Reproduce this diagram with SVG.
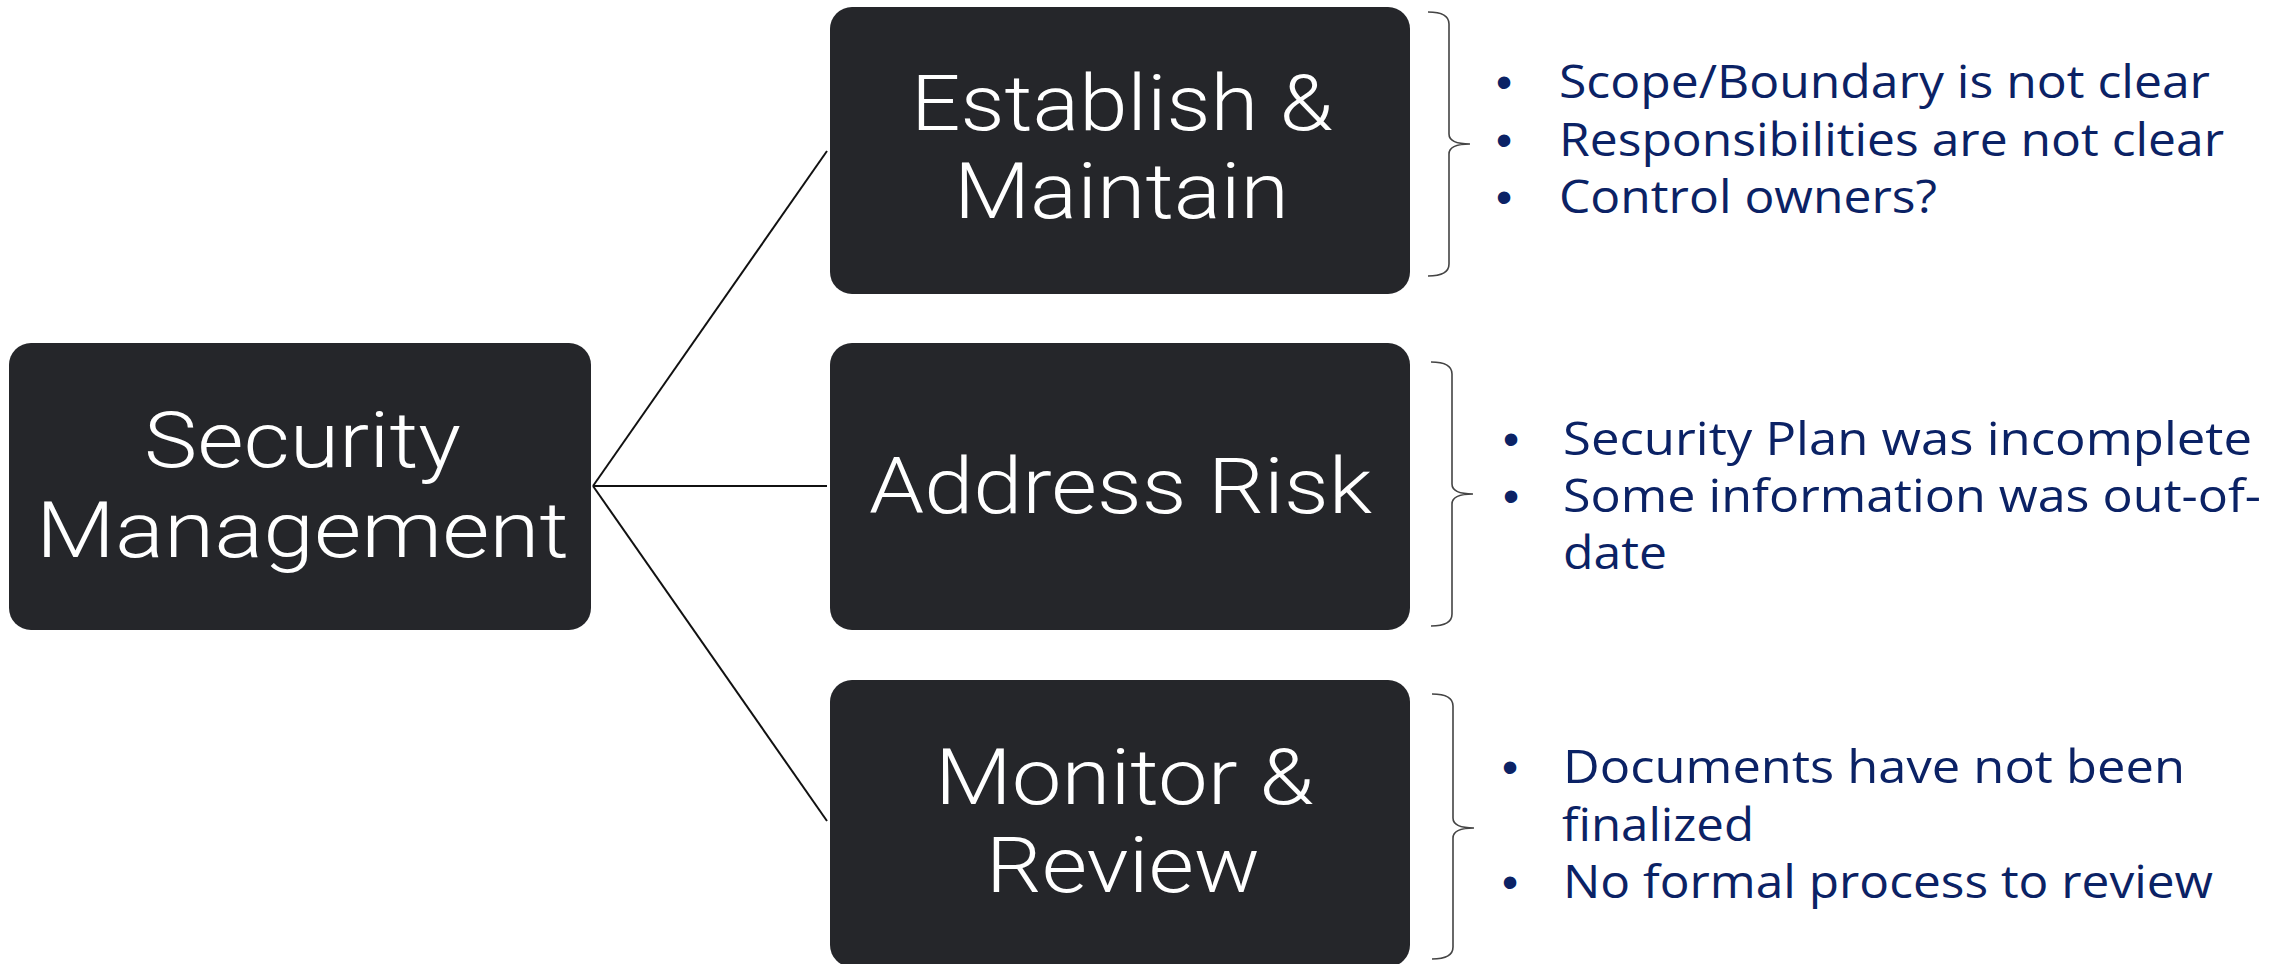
<svg xmlns="http://www.w3.org/2000/svg" width="2282" height="964" viewBox="0 0 2282 964">
<style>
.box{fill:#25262a}
.bt{fill:#ffffff;font-family:"Roboto","Lato","Inter",sans-serif;font-weight:300;font-size:78px}
.nt{fill:#0b2265;font-family:"Open Sans","Liberation Sans",sans-serif;font-size:46px}
.bu{fill:#0b2265;font-family:"Liberation Sans",sans-serif;font-size:46px;text-anchor:middle}
.ln{stroke:#111;stroke-width:2;fill:none}
.br{stroke:#444;stroke-width:1.6;fill:none}
</style>
<rect width="2282" height="964" fill="#ffffff"/>
<g id="connectors">
<line class="ln" x1="593" y1="486" x2="827" y2="151"/>
<line class="ln" x1="593" y1="486" x2="827" y2="486"/>
<line class="ln" x1="593" y1="486" x2="827" y2="821"/>
</g>
<g id="node-security-management">
<rect class="box" x="9" y="343" width="582" height="287" rx="22"/>
<text class="bt" x="144" y="467" textLength="317" lengthAdjust="spacingAndGlyphs">Security</text>
<text class="bt" x="36" y="557" textLength="533" lengthAdjust="spacingAndGlyphs">Management</text>
</g>
<g id="node-establish">
<rect class="box" x="830" y="7" width="580" height="287" rx="22"/>
<text class="bt" x="911" y="130" textLength="422" lengthAdjust="spacingAndGlyphs">Establish &amp;</text>
<text class="bt" x="954" y="218" textLength="335" lengthAdjust="spacingAndGlyphs">Maintain</text>
</g>
<g id="node-address-risk">
<rect class="box" x="830" y="343" width="580" height="287" rx="22"/>
<text class="bt" x="869" y="513" textLength="503" lengthAdjust="spacingAndGlyphs">Address Risk</text>
</g>
<g id="node-monitor">
<rect class="box" x="830" y="680" width="580" height="287" rx="22"/>
<text class="bt" x="935" y="804" textLength="379" lengthAdjust="spacingAndGlyphs">Monitor &amp;</text>
<text class="bt" x="986" y="892" textLength="274" lengthAdjust="spacingAndGlyphs">Review</text>
</g>
<g id="notes-establish">
<path class="br" d="M1428,12 Q1449,12 1449,24 L1449,134 Q1449,144 1470,144 Q1449,144 1449,154 L1449,264 Q1449,276 1428,276"/>
<text class="bu" x="1504" y="98">•</text>
<text class="bu" x="1504" y="156">•</text>
<text class="bu" x="1504" y="213">•</text>
<text class="nt" x="1559" y="98" textLength="651" lengthAdjust="spacingAndGlyphs">Scope/Boundary is not clear</text>
<text class="nt" x="1559" y="156" textLength="665" lengthAdjust="spacingAndGlyphs">Responsibilities are not clear</text>
<text class="nt" x="1559" y="213" textLength="378" lengthAdjust="spacingAndGlyphs">Control owners?</text>
</g>
<g id="notes-address">
<path class="br" d="M1431,362 Q1452,362 1452,374 L1452,484 Q1452,494 1473,494 Q1452,494 1452,504 L1452,614 Q1452,626 1431,626"/>
<text class="bu" x="1511" y="455">•</text>
<text class="bu" x="1511" y="512">•</text>
<text class="nt" x="1563" y="455" textLength="689" lengthAdjust="spacingAndGlyphs">Security Plan was incomplete</text>
<text class="nt" x="1563" y="512" textLength="698" lengthAdjust="spacingAndGlyphs">Some information was out-of-</text>
<text class="nt" x="1563" y="569" textLength="104" lengthAdjust="spacingAndGlyphs">date</text>
</g>
<g id="notes-monitor">
<path class="br" d="M1432,694 Q1453,694 1453,706 L1453,818 Q1453,828 1474,828 Q1453,828 1453,838 L1453,947 Q1453,959 1432,959"/>
<text class="bu" x="1510" y="783">•</text>
<text class="bu" x="1510" y="898">•</text>
<text class="nt" x="1563" y="783" textLength="622" lengthAdjust="spacingAndGlyphs">Documents have not been</text>
<text class="nt" x="1562" y="841" textLength="192" lengthAdjust="spacingAndGlyphs">finalized</text>
<text class="nt" x="1563" y="898" textLength="650" lengthAdjust="spacingAndGlyphs">No formal process to review</text>
</g>
</svg>
